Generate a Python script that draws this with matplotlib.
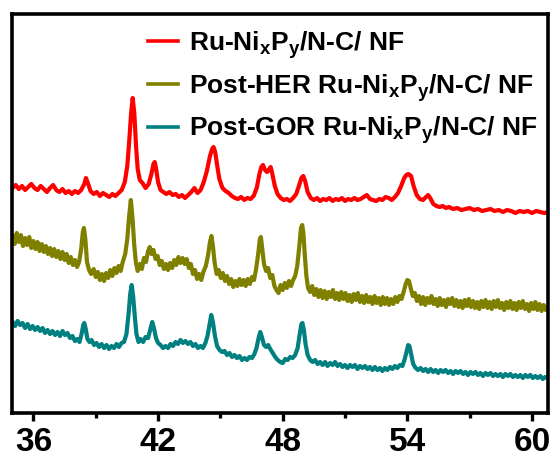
#!/usr/bin/env python3
"""
XRD patterns of Ru-NixPy/N-C/NF before and after HER / GOR testing,
stacked with vertical offsets.
"""
import numpy as np
import matplotlib
matplotlib.use('Agg')
import matplotlib.pyplot as plt
from matplotlib.ticker import MultipleLocator

plt.rcParams['font.family'] = ['Liberation Sans', 'DejaVu Sans']
plt.rcParams['font.weight'] = 'bold'
plt.rcParams['mathtext.fontset'] = 'custom'
plt.rcParams['mathtext.rm'] = 'Liberation Sans:bold'
plt.rcParams['mathtext.bf'] = 'Liberation Sans:bold'
plt.rcParams['mathtext.it'] = 'Liberation Sans:bold:italic'

# (2theta in degrees, intensity in a.u., offsets already included)
red_pts = [
    (35.00, 226), (35.15, 229), (35.30, 225), (35.45, 228), (35.60, 224),
    (35.75, 227), (35.90, 230), (36.05, 226), (36.20, 224), (36.35, 228),
    (36.50, 225), (36.65, 222), (36.80, 226), (36.95, 229), (37.10, 224),
    (37.25, 222), (37.40, 225), (37.55, 221), (37.70, 223), (37.85, 220),
    (38.00, 223), (38.15, 221), (38.30, 224), (38.45, 230), (38.53, 236),
    (38.62, 231), (38.75, 223), (38.90, 220), (39.05, 222), (39.20, 218),
    (39.35, 221), (39.50, 219), (39.65, 217), (39.80, 220), (39.95, 218),
    (40.10, 221), (40.25, 224), (40.40, 232), (40.52, 248), (40.62, 275),
    (40.70, 300), (40.78, 316), (40.86, 300), (40.94, 268), (41.02, 245),
    (41.12, 234), (41.25, 231), (41.40, 226), (41.55, 230), (41.68, 240),
    (41.78, 250), (41.84, 252), (41.90, 246), (42.00, 232), (42.12, 224),
    (42.25, 222), (42.40, 220), (42.55, 222), (42.70, 219), (42.85, 220),
    (43.00, 217), (43.15, 219), (43.30, 216), (43.45, 219), (43.60, 222),
    (43.75, 226), (43.90, 221), (44.05, 224), (44.20, 232), (44.35, 243),
    (44.50, 258), (44.60, 265), (44.67, 267), (44.75, 262), (44.85, 248),
    (44.95, 235), (45.10, 226), (45.25, 223), (45.40, 221), (45.55, 218),
    (45.70, 216), (45.85, 215), (46.00, 217), (46.15, 214), (46.30, 216),
    (46.45, 215), (46.60, 218), (46.75, 226), (46.88, 240), (46.97, 247),
    (47.05, 249), (47.15, 244), (47.25, 242), (47.35, 245), (47.42, 247),
    (47.50, 240), (47.62, 228), (47.75, 220), (47.90, 216), (48.05, 214),
    (48.20, 215), (48.35, 213), (48.50, 216), (48.65, 220), (48.78, 228),
    (48.90, 236), (48.99, 238), (49.08, 233), (49.20, 222), (49.35, 216),
    (49.50, 214), (49.65, 216), (49.80, 213), (49.95, 215), (50.10, 214),
    (50.25, 216), (50.40, 213), (50.55, 215), (50.70, 214), (50.85, 216),
    (51.00, 213), (51.15, 215), (51.30, 214), (51.45, 216), (51.60, 214),
    (51.75, 215), (51.90, 217), (52.05, 219), (52.20, 215), (52.35, 214),
    (52.50, 213), (52.65, 215), (52.80, 214), (52.95, 217), (53.10, 216),
    (53.25, 214), (53.40, 217), (53.55, 221), (53.70, 228), (53.85, 236),
    (53.95, 239), (54.05, 240), (54.18, 238), (54.30, 228), (54.45, 219),
    (54.60, 215), (54.75, 214), (54.90, 217), (55.00, 219), (55.10, 216),
    (55.25, 210), (55.40, 208), (55.55, 207), (55.70, 208), (55.85, 206),
    (56.00, 207), (56.20, 205), (56.40, 206), (56.60, 204), (56.80, 205),
    (57.00, 206), (57.20, 204), (57.40, 205), (57.60, 203), (57.80, 204),
    (58.00, 205), (58.20, 203), (58.40, 204), (58.60, 202), (58.80, 204),
    (59.00, 203), (59.20, 201), (59.40, 203), (59.60, 202), (59.80, 203),
    (60.00, 201), (60.20, 203), (60.40, 202), (60.60, 201), (60.80, 202),
]

olive_pts = [
    (35.00, 178), (35.10, 170), (35.20, 181), (35.30, 172), (35.40, 179),
    (35.50, 168), (35.60, 176), (35.70, 169), (35.80, 177), (35.90, 166),
    (36.00, 173), (36.10, 165), (36.20, 172), (36.30, 163), (36.40, 170),
    (36.50, 162), (36.60, 168), (36.70, 160), (36.80, 166), (36.90, 158),
    (37.00, 165), (37.10, 157), (37.20, 163), (37.30, 155), (37.40, 162),
    (37.50, 154), (37.60, 160), (37.70, 151), (37.80, 157), (37.90, 149),
    (38.00, 154), (38.10, 147), (38.20, 152), (38.30, 165), (38.38, 182),
    (38.43, 186), (38.50, 175), (38.58, 152), (38.68, 144), (38.78, 140),
    (38.90, 145), (39.00, 137), (39.10, 142), (39.20, 134), (39.30, 140),
    (39.40, 133), (39.50, 141), (39.60, 136), (39.70, 144), (39.80, 138),
    (39.90, 146), (40.00, 141), (40.10, 148), (40.20, 143), (40.30, 152),
    (40.42, 160), (40.52, 175), (40.60, 196), (40.69, 214), (40.77, 196),
    (40.85, 170), (40.93, 152), (41.02, 143), (41.12, 150), (41.22, 145),
    (41.32, 156), (41.42, 152), (41.52, 163), (41.60, 167), (41.68, 160),
    (41.78, 164), (41.88, 155), (41.98, 158), (42.08, 149), (42.18, 153),
    (42.28, 145), (42.38, 150), (42.48, 144), (42.58, 151), (42.68, 146),
    (42.78, 154), (42.88, 149), (42.98, 157), (43.08, 151), (43.18, 156),
    (43.28, 150), (43.38, 155), (43.48, 146), (43.58, 150), (43.68, 140),
    (43.78, 144), (43.88, 135), (43.98, 140), (44.08, 134), (44.18, 142),
    (44.30, 148), (44.40, 158), (44.50, 172), (44.57, 178), (44.64, 168),
    (44.72, 152), (44.82, 140), (44.92, 144), (45.02, 136), (45.12, 141),
    (45.22, 133), (45.32, 138), (45.42, 130), (45.52, 135), (45.62, 127),
    (45.72, 133), (45.82, 128), (45.92, 135), (46.02, 129), (46.12, 134),
    (46.22, 128), (46.32, 135), (46.42, 130), (46.52, 137), (46.62, 134),
    (46.72, 145), (46.82, 160), (46.90, 175), (46.95, 177), (47.02, 164),
    (47.10, 150), (47.20, 143), (47.30, 146), (47.40, 136), (47.50, 139),
    (47.60, 128), (47.70, 124), (47.80, 121), (47.90, 129), (48.00, 124),
    (48.10, 131), (48.20, 126), (48.30, 133), (48.40, 128), (48.50, 134),
    (48.60, 138), (48.70, 148), (48.80, 168), (48.88, 186), (48.94, 189),
    (49.00, 180), (49.06, 160), (49.14, 138), (49.22, 126), (49.32, 122),
    (49.42, 128), (49.52, 119), (49.62, 125), (49.72, 117), (49.82, 124),
    (49.92, 116), (50.02, 123), (50.12, 115), (50.22, 122), (50.32, 117),
    (50.42, 124), (50.52, 115), (50.62, 121), (50.72, 114), (50.82, 122),
    (50.92, 115), (51.02, 121), (51.12, 113), (51.22, 119), (51.32, 112),
    (51.42, 120), (51.52, 114), (51.62, 121), (51.72, 112), (51.82, 118),
    (51.92, 111), (52.02, 119), (52.12, 112), (52.22, 117), (52.32, 110),
    (52.42, 118), (52.52, 111), (52.62, 116), (52.72, 109), (52.82, 117),
    (52.92, 110), (53.02, 116), (53.12, 109), (53.22, 115), (53.32, 110),
    (53.42, 117), (53.52, 112), (53.62, 118), (53.72, 115), (53.82, 122),
    (53.92, 130), (54.00, 134), (54.08, 133), (54.16, 126), (54.26, 118),
    (54.36, 121), (54.46, 113), (54.56, 118), (54.66, 110), (54.76, 117),
    (54.86, 109), (54.96, 116), (55.06, 111), (55.16, 118), (55.26, 110),
    (55.36, 115), (55.46, 108), (55.56, 116), (55.66, 109), (55.76, 114),
    (55.86, 107), (55.96, 115), (56.06, 110), (56.16, 116), (56.26, 108),
    (56.36, 114), (56.46, 107), (56.56, 113), (56.66, 106), (56.76, 114),
    (56.86, 108), (56.96, 115), (57.06, 107), (57.16, 113), (57.26, 106),
    (57.36, 112), (57.46, 105), (57.56, 113), (57.66, 107), (57.76, 114),
    (57.86, 106), (57.96, 112), (58.06, 105), (58.16, 113), (58.26, 107),
    (58.36, 114), (58.46, 106), (58.56, 111), (58.66, 104), (58.76, 112),
    (58.86, 106), (58.96, 113), (59.06, 105), (59.16, 111), (59.26, 104),
    (59.36, 112), (59.46, 106), (59.56, 113), (59.66, 105), (59.76, 110),
    (59.86, 103), (59.96, 111), (60.06, 105), (60.16, 112), (60.26, 104),
    (60.36, 110), (60.46, 103), (60.56, 109), (60.66, 104), (60.80, 108),
]

teal_pts = [
    (35.00, 92), (35.12, 88), (35.24, 93), (35.36, 89), (35.48, 91),
    (35.60, 86), (35.72, 90), (35.84, 85), (35.96, 88), (36.08, 84),
    (36.20, 87), (36.32, 83), (36.44, 86), (36.56, 81), (36.68, 84),
    (36.80, 80), (36.92, 83), (37.04, 79), (37.16, 82), (37.28, 78),
    (37.40, 83), (37.52, 79), (37.64, 81), (37.76, 76), (37.88, 78),
    (38.00, 73), (38.12, 75), (38.22, 72), (38.32, 80), (38.40, 89),
    (38.45, 91), (38.52, 85), (38.60, 75), (38.70, 72), (38.80, 74),
    (38.92, 69), (39.04, 71), (39.16, 67), (39.28, 70), (39.40, 66),
    (39.52, 69), (39.64, 65), (39.76, 68), (39.88, 66), (40.00, 70),
    (40.12, 67), (40.24, 71), (40.36, 72), (40.48, 80), (40.58, 100),
    (40.66, 120), (40.73, 129), (40.80, 118), (40.88, 98), (40.96, 80),
    (41.06, 72), (41.16, 75), (41.28, 72), (41.40, 77), (41.52, 76),
    (41.62, 84), (41.72, 92), (41.80, 86), (41.90, 76), (42.00, 71),
    (42.12, 69), (42.24, 66), (42.36, 68), (42.48, 66), (42.60, 70),
    (42.72, 68), (42.84, 72), (42.96, 70), (43.08, 74), (43.20, 71),
    (43.32, 73), (43.44, 70), (43.56, 72), (43.68, 68), (43.80, 70),
    (43.92, 66), (44.04, 68), (44.16, 66), (44.28, 71), (44.38, 78),
    (44.48, 90), (44.56, 99), (44.64, 92), (44.74, 78), (44.84, 68),
    (44.96, 64), (45.08, 62), (45.20, 63), (45.32, 59), (45.44, 61),
    (45.56, 57), (45.68, 59), (45.80, 56), (45.92, 58), (46.04, 54),
    (46.16, 56), (46.28, 54), (46.40, 57), (46.52, 56), (46.64, 60),
    (46.74, 66), (46.84, 76), (46.92, 82), (47.00, 77), (47.10, 69),
    (47.20, 67), (47.30, 69), (47.40, 65), (47.52, 61), (47.64, 57),
    (47.76, 54), (47.88, 52), (48.00, 51), (48.12, 55), (48.24, 54),
    (48.36, 57), (48.48, 56), (48.60, 59), (48.72, 66), (48.82, 80),
    (48.90, 90), (48.95, 91), (49.02, 84), (49.10, 70), (49.20, 59),
    (49.32, 54), (49.44, 52), (49.56, 54), (49.68, 50), (49.80, 52),
    (49.92, 49), (50.04, 52), (50.16, 48), (50.28, 51), (50.40, 49),
    (50.52, 52), (50.64, 48), (50.76, 50), (50.88, 47), (51.00, 49),
    (51.12, 46), (51.24, 49), (51.36, 47), (51.48, 49), (51.60, 45),
    (51.72, 48), (51.84, 46), (51.96, 48), (52.08, 45), (52.20, 47),
    (52.32, 44), (52.44, 47), (52.56, 44), (52.68, 46), (52.80, 43),
    (52.92, 46), (53.04, 44), (53.16, 47), (53.28, 45), (53.40, 48),
    (53.52, 46), (53.64, 49), (53.76, 48), (53.86, 54), (53.96, 62),
    (54.04, 69), (54.10, 68), (54.18, 60), (54.28, 50), (54.40, 46),
    (54.52, 44), (54.64, 46), (54.76, 43), (54.88, 45), (55.00, 42),
    (55.12, 45), (55.24, 42), (55.36, 44), (55.48, 41), (55.60, 44),
    (55.72, 42), (55.84, 44), (55.96, 41), (56.08, 43), (56.20, 40),
    (56.32, 43), (56.44, 41), (56.56, 43), (56.68, 40), (56.80, 42),
    (56.92, 39), (57.04, 42), (57.16, 40), (57.28, 42), (57.40, 39),
    (57.52, 41), (57.64, 38), (57.76, 41), (57.88, 39), (58.00, 41),
    (58.12, 38), (58.24, 40), (58.36, 38), (58.48, 40), (58.60, 37),
    (58.72, 40), (58.84, 38), (58.96, 40), (59.08, 37), (59.20, 39),
    (59.32, 37), (59.44, 39), (59.56, 36), (59.68, 39), (59.80, 37),
    (59.92, 39), (60.04, 36), (60.16, 38), (60.28, 36), (60.40, 38),
    (60.52, 35), (60.64, 37), (60.80, 36),
]

labels = [
    r'Ru-Ni$_\mathbf{x}$P$_\mathbf{y}$/N-C/ NF',
    r'Post-HER Ru-Ni$_\mathbf{x}$P$_\mathbf{y}$/N-C/ NF',
    r'Post-GOR Ru-Ni$_\mathbf{x}$P$_\mathbf{y}$/N-C/ NF',
]
colors = ['#ff0000', '#808000', '#008080']

fig = plt.figure(figsize=(5.52, 4.57), dpi=100)
ax = fig.add_axes([12 / 552, 44 / 457, 536 / 552, 399 / 457])

for pts, lab, col in zip([red_pts, olive_pts, teal_pts], labels, colors):
    x, y = np.array(pts).T
    ax.plot(x, y, color=col, lw=3.0, label=lab, solid_joinstyle='round')

ax.set_xlim(34.97, 60.77)
ax.set_ylim(1, 400)
ax.set_yticks([])
ax.xaxis.set_major_locator(MultipleLocator(6))
ax.xaxis.set_minor_locator(MultipleLocator(3))
ax.tick_params(axis='x', which='major', direction='out', length=6,
               width=2.4, labelsize=24, pad=4)
ax.tick_params(axis='x', which='minor', direction='out', length=3.5,
               width=2.4)
for lab in ax.get_xticklabels():
    lab.set_fontweight('bold')
for sp in ax.spines.values():
    sp.set_linewidth(2.6)

leg = ax.legend(loc='upper left', bbox_to_anchor=(0.254, 0.962),
                frameon=False, fontsize=19, borderpad=0, borderaxespad=0,
                handlelength=1.15, handletextpad=0.38, labelspacing=0.42)
for line in leg.get_lines():
    line.set_linewidth(2.6)

fig.savefig('out.png', dpi=100)
